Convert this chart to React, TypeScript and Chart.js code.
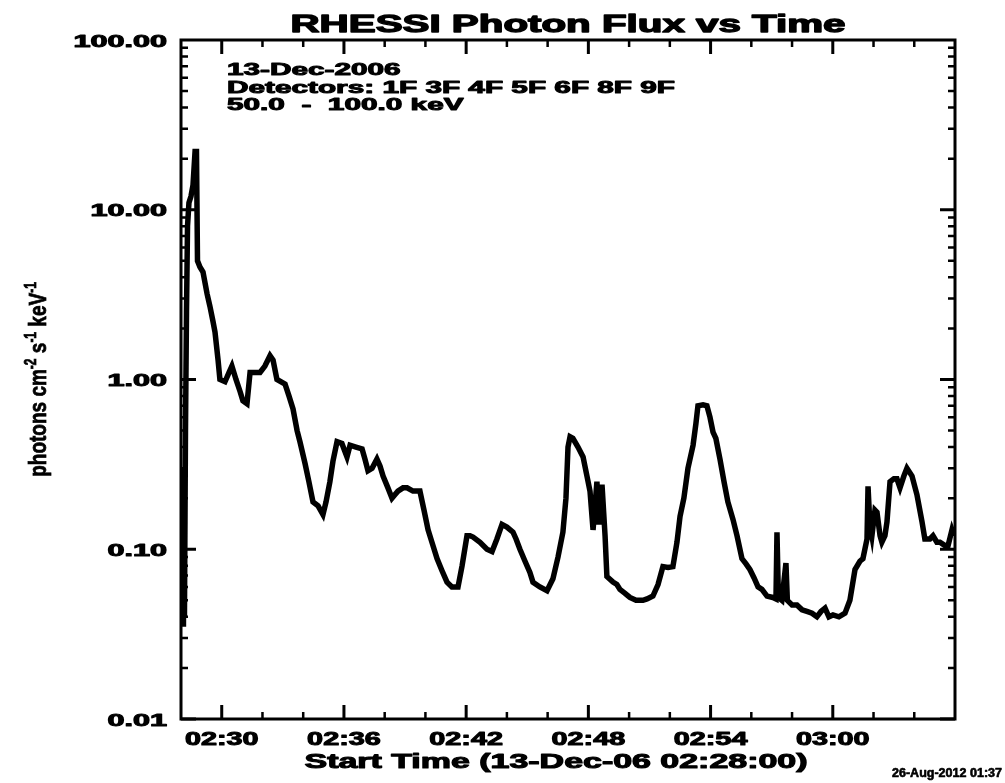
import { useEffect, useRef } from "react";
import { Chart, registerables } from "chart.js";

Chart.register(...registerables);

// ---- Text content ----
const TITLE = "RHESSI Photon Flux vs Time";
const INFO_LINES = ["13-Dec-2006", "Detectors: 1F 3F 4F 5F 6F 8F 9F", "50.0  -  100.0 keV"];
const X_TITLE = "Start Time (13-Dec-06 02:28:00)";
const STAMP = "26-Aug-2012 01:37";

// ---- Data: minutes after 02:28:00 and photon flux ----
const timeMinutes = [
  0.05, 0.1, 0.12, 0.15, 0.17, 0.22, 0.27, 0.32, 0.39, 0.49, 0.59, 0.69, 0.76, 0.81, 0.93, 1.08, 1.28, 1.42, 1.57, 1.67,
  1.82, 1.91, 2.16, 2.36, 2.5, 2.7, 2.9, 3.04, 3.24, 3.39, 3.63, 3.88, 4.12, 4.37, 4.52, 4.71, 5.11, 5.3, 5.5, 5.7,
  5.84, 6.09, 6.28, 6.48, 6.73, 6.97, 7.12, 7.31, 7.46, 7.66, 7.9, 8.15, 8.3, 8.59, 8.89, 9.03, 9.18, 9.38, 9.62, 9.77,
  9.92, 10.16, 10.36, 10.51, 10.65, 10.9, 11.1, 11.39, 11.73, 11.93, 12.13, 12.32, 12.57, 12.81, 13.06, 13.3, 13.6, 13.8, 14.04, 14.19,
  14.34, 14.68, 15.02, 15.27, 15.51, 15.76, 16.0, 16.3, 16.45, 16.64, 16.89, 17.13, 17.28, 17.62, 17.97, 18.26, 18.51, 18.75, 18.9, 19.0,
  19.1, 19.24, 19.49, 19.74, 19.93, 20.08, 20.23, 20.42, 20.52, 20.67, 20.82, 20.91, 21.21, 21.4, 21.55, 21.8, 22.04, 22.34, 22.68, 22.88,
  23.17, 23.42, 23.66, 23.91, 24.15, 24.35, 24.5, 24.69, 24.89, 25.14, 25.28, 25.38, 25.63, 25.82, 25.97, 26.12, 26.26, 26.46, 26.66, 26.85,
  27.1, 27.3, 27.54, 27.74, 27.93, 28.13, 28.33, 28.52, 28.77, 29.06, 29.21, 29.26, 29.33, 29.5, 29.7, 29.77, 30.0, 30.24, 30.49, 30.73,
  30.98, 31.22, 31.42, 31.62, 31.81, 32.01, 32.3, 32.6, 32.84, 33.09, 33.33, 33.48, 33.68, 33.73, 33.82, 33.92, 34.07, 34.17, 34.32, 34.41,
  34.56, 34.66, 34.81, 35.0, 35.15, 35.3, 35.49, 35.64, 35.89, 36.13, 36.38, 36.52, 36.77, 36.92, 37.11, 37.26, 37.51, 37.65, 37.85, 37.95,
];
const flux = [
  0.04, 0.3, 0.035, 0.25, 0.04, 0.5, 2.5, 8, 11, 12, 14, 22, 22, 5.0, 4.6, 4.3, 3.2, 2.7, 2.2, 1.9,
  1.3, 1.0, 0.97, 1.1, 1.2, 1.0, 0.85, 0.75, 0.72, 1.1, 1.1, 1.1, 1.2, 1.38, 1.3, 1.0, 0.94, 0.8, 0.67, 0.5,
  0.43, 0.32, 0.25, 0.19, 0.18, 0.16, 0.19, 0.25, 0.33, 0.43, 0.42, 0.35, 0.41, 0.4, 0.39, 0.34, 0.29, 0.3, 0.34, 0.31,
  0.27, 0.23, 0.2, 0.21, 0.22, 0.23, 0.23, 0.22, 0.22, 0.17, 0.13, 0.11, 0.088, 0.075, 0.064, 0.06, 0.06, 0.08, 0.12, 0.12,
  0.118, 0.11, 0.1, 0.097, 0.115, 0.14, 0.135, 0.126, 0.115, 0.1, 0.085, 0.073, 0.064, 0.06, 0.057, 0.067, 0.09, 0.126, 0.2, 0.4,
  0.46, 0.45, 0.4, 0.35, 0.27, 0.22, 0.13, 0.25, 0.14, 0.24, 0.12, 0.069, 0.064, 0.062, 0.058, 0.055, 0.052, 0.05, 0.05, 0.051,
  0.053, 0.062, 0.079, 0.078, 0.079, 0.11, 0.156, 0.2, 0.3, 0.41, 0.55, 0.7, 0.71, 0.7, 0.6, 0.49, 0.45, 0.34, 0.25, 0.19,
  0.15, 0.12, 0.088, 0.082, 0.076, 0.068, 0.06, 0.058, 0.053, 0.052, 0.051, 0.126, 0.052, 0.05, 0.083, 0.05, 0.047, 0.047, 0.044, 0.043,
  0.042, 0.04, 0.043, 0.045, 0.04, 0.041, 0.04, 0.042, 0.05, 0.076, 0.085, 0.088, 0.115, 0.235, 0.14, 0.12, 0.17, 0.165, 0.12, 0.11,
  0.12, 0.145, 0.25, 0.26, 0.26, 0.23, 0.27, 0.3, 0.27, 0.21, 0.145, 0.115, 0.115, 0.12, 0.11, 0.11, 0.105, 0.104, 0.13, 0.12,
];

// ---- Axes ----
const X_MIN = 0;
const X_MAX = 38;
const X_MINOR_STEP = 2;
const xMajorTicks = [2, 8, 14, 20, 26, 32];
const xTickLabels = ["02:30", "02:36", "02:42", "02:48", "02:54", "03:00"];
const yMajorTicks = [0.01, 0.1, 1, 10, 100];
const yTickLabels = ["0.01", "0.10", "1.00", "10.00", "100.00"];

const FONT = '"Liberation Sans", Arial, Helvetica, sans-serif';

function drawText(
  ctx: CanvasRenderingContext2D,
  text: string,
  x: number,
  y: number,
  size: number,
  sx: number,
  align: "left" | "center" | "right",
  targetWidth?: number,
  heavy = 0.9
) {
  ctx.save();
  ctx.font = `bold ${size}px ${FONT}`;
  ctx.textBaseline = "alphabetic";
  ctx.textAlign = "left";
  const natural = ctx.measureText(text).width;
  const s = targetWidth ? targetWidth / natural : sx;
  const w = natural * s;
  const x0 = align === "left" ? x : align === "center" ? x - w / 2 : x - w;
  ctx.translate(x0, y);
  ctx.scale(s, 1);
  ctx.fillStyle = "#000";
  ctx.strokeStyle = "#000";
  ctx.lineJoin = "round";
  ctx.fillText(text, 0, 0);
  if (heavy > 0) {
    ctx.lineWidth = heavy;
    ctx.strokeText(text, 0, 0);
  }
  ctx.restore();
}

const decorPlugin = {
  id: "idlDecor",
  afterDraw(chart: any) {
    const ctx: CanvasRenderingContext2D = chart.ctx;
    const { left, right, top, bottom } = chart.chartArea;
    const xs = chart.scales.x;
    const ys = chart.scales.y;
    ctx.save();
    ctx.strokeStyle = "#000";
    ctx.lineCap = "butt";
    // frame
    ctx.lineWidth = 3;
    ctx.strokeRect(left, top, right - left, bottom - top);

    // x ticks (bottom & top)
    for (let t = X_MIN; t <= X_MAX + 1e-6; t += X_MINOR_STEP) {
      const px = xs.getPixelForValue(t);
      if (px <= left + 2 || px >= right - 2) continue;
      const major = xMajorTicks.includes(t);
      const len = major ? 14 : 7;
      ctx.lineWidth = major ? 3 : 2.5;
      ctx.beginPath();
      ctx.moveTo(px, bottom);
      ctx.lineTo(px, bottom - len);
      ctx.moveTo(px, top);
      ctx.lineTo(px, top + len);
      ctx.stroke();
    }
    // y ticks (left & right)
    for (let d = 0; d < yMajorTicks.length - 1; d++) {
      for (let m = 1; m <= 9; m++) {
        const v = yMajorTicks[d] * m;
        const py = ys.getPixelForValue(v);
        const major = m === 1;
        const len = major ? 15 : 7;
        ctx.lineWidth = major ? 3 : 2.5;
        ctx.beginPath();
        ctx.moveTo(left, py);
        ctx.lineTo(left + len, py);
        ctx.moveTo(right, py);
        ctx.lineTo(right - len, py);
        ctx.stroke();
      }
    }
    ctx.restore();

    // tick labels
    yMajorTicks.forEach((v, i) => {
      const py = ys.getPixelForValue(v);
      drawText(ctx, yTickLabels[i], 167, py + 6.5, 17, 1.8, "right", undefined, 1.0);
    });
    xMajorTicks.forEach((t, i) => {
      const px = xs.getPixelForValue(t);
      drawText(ctx, xTickLabels[i], px, 745, 18, 1.6, "center", undefined, 1.0);
    });

    // title
    drawText(ctx, TITLE, (left + right) / 2, 32, 24, 1, "center", 555, 1.3);
    // x axis title
    drawText(ctx, X_TITLE, 556, 768, 21, 1, "center", 503, 1.1);
    // info lines
    INFO_LINES.forEach((line, i) => {
      drawText(ctx, line, 227, 75 + i * 17.5, 17, 1.75, "left", undefined, 1.0);
    });
    // stamp
    drawText(ctx, STAMP, 1002, 777, 12, 1, "right", 110, 0.6);

    // rotated y-axis label with superscripts
    const segs: [string, boolean][] = [
      ["photons cm", false],
      ["-2", true],
      [" s", false],
      ["-1", true],
      [" keV", false],
      ["-1", true],
    ];
    const size = 19;
    const supSize = 12;
    ctx.save();
    let total = 0;
    segs.forEach(([t, sup]) => {
      ctx.font = `bold ${sup ? supSize : size}px ${FONT}`;
      total += ctx.measureText(t).width;
    });
    ctx.translate(46, (top + bottom) / 2);
    ctx.scale(1.3, 1);
    ctx.rotate(-Math.PI / 2);
    ctx.fillStyle = "#000";
    ctx.strokeStyle = "#000";
    ctx.lineWidth = 0.6;
    ctx.textBaseline = "alphabetic";
    ctx.textAlign = "left";
    let pos = -total / 2;
    segs.forEach(([t, sup]) => {
      ctx.font = `bold ${sup ? supSize : size}px ${FONT}`;
      ctx.fillText(t, pos, sup ? -8 : 0);
      ctx.strokeText(t, pos, sup ? -8 : 0);
      pos += ctx.measureText(t).width;
    });
    ctx.restore();
  },
};

export default function App() {
  const ref = useRef<HTMLCanvasElement | null>(null);
  useEffect(() => {
    if (!ref.current) return;
    const points = timeMinutes.map((t, i) => ({ x: t, y: flux[i] }));
    const chart = new Chart(ref.current, {
      type: "line",
      data: {
        datasets: [
          {
            data: points,
            borderColor: "#000",
            borderWidth: 5.5,
            pointRadius: 0,
            tension: 0,
            fill: false,
            borderJoinStyle: "miter",
          },
        ],
      },
      options: {
        responsive: false,
        animation: false,
        layout: { padding: { left: 181, top: 40, right: 50, bottom: 64 } },
        plugins: { legend: { display: false }, tooltip: { enabled: false }, title: { display: false } },
        scales: {
          x: { type: "linear", min: X_MIN, max: X_MAX, display: false },
          y: { type: "logarithmic", min: 0.01, max: 100, display: false },
        },
      },
      plugins: [decorPlugin],
    });
    return () => chart.destroy();
  }, []);
  return (
    <div style={{ position: "absolute", left: 0, top: 0, width: 1005, height: 783, background: "#fff" }}>
      <canvas ref={ref} width={1005} height={783} style={{ display: "block" }} />
    </div>
  );
}
